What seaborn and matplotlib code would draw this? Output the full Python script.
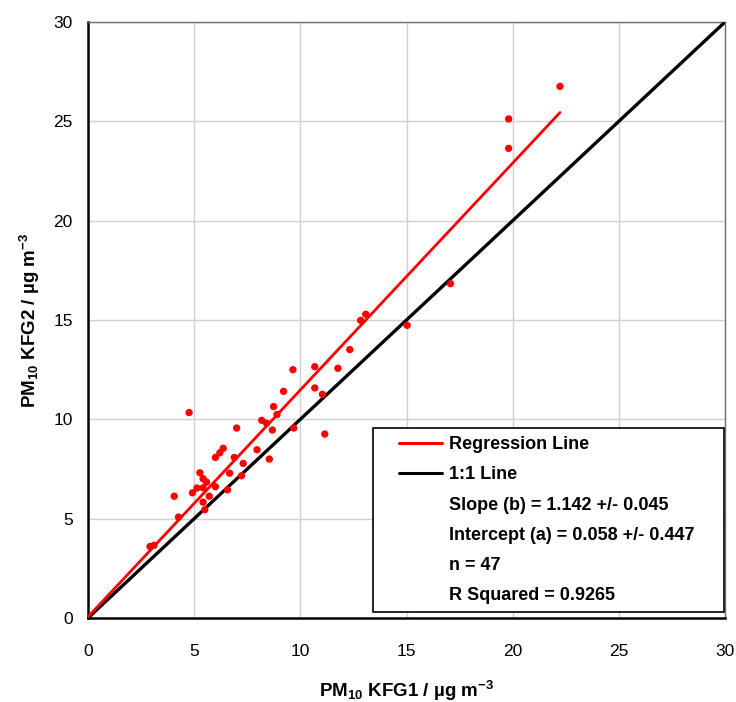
import matplotlib
matplotlib.use("Agg")
import matplotlib.pyplot as plt
from matplotlib.lines import Line2D
from matplotlib.patches import Rectangle
import numpy as np
import pandas as pd
import seaborn as sns

# PM10 values (ug m-3)
kfg1 = [4.76, 8.74, 8.90, 8.18, 8.41, 8.68, 9.69, 11.15, 7.00, 6.37,
        6.21, 6.00, 6.89, 7.96, 8.54, 7.31, 6.67, 7.23, 5.27, 5.42,
        5.58, 6.00, 5.42, 5.13, 6.57, 4.92, 5.71, 5.42, 5.50, 4.06,
        4.26, 2.92, 3.11, 17.07, 15.03, 12.84, 13.08, 12.33, 11.77, 10.68,
        9.65, 10.68, 11.04, 9.21, 22.23, 19.81, 19.81]
kfg2 = [10.34, 10.64, 10.24, 9.95, 9.80, 9.46, 9.56, 9.26, 9.56, 8.54,
        8.32, 8.08, 8.08, 8.47, 8.00, 7.78, 7.29, 7.16, 7.31, 7.01,
        6.84, 6.61, 6.55, 6.54, 6.45, 6.30, 6.13, 5.83, 5.45, 6.13,
        5.08, 3.60, 3.66, 16.83, 14.73, 14.98, 15.29, 13.51, 12.57, 12.65,
        12.50, 11.58, 11.26, 11.41, 26.76, 25.12, 23.64]

# fit results given on the chart
slope = 1.142
intercept = 0.058
stats_labels = ["Slope (b) = 1.142 +/- 0.045",
                "Intercept (a) = 0.058 +/- 0.447",
                "n = 47",
                "R Squared = 0.9265"]

df = pd.DataFrame({"kfg1": kfg1, "kfg2": kfg2})

sns.set_style("white")
plt.rcParams["font.family"] = ["Liberation Sans", "DejaVu Sans"]
plt.rcParams["mathtext.default"] = "regular"
plt.rcParams["text.color"] = "black"
plt.rcParams["axes.labelcolor"] = "black"
plt.rcParams["xtick.color"] = "black"
plt.rcParams["ytick.color"] = "black"

fig = plt.figure(figsize=(7.36, 7.02), dpi=100)
ax = fig.add_axes([88 / 736, 84 / 702, 637 / 736, 596 / 702])

# lignes: 1:1 et regression
one = np.array([0, 30])
sns.lineplot(x=one, y=one, color="black", lw=2.4, ax=ax, zorder=3)
xr = np.array([0, df["kfg1"].max()])
sns.lineplot(x=xr, y=slope * xr + intercept, color="#ff0000", lw=2.0, ax=ax, zorder=3)
sns.scatterplot(data=df, x="kfg1", y="kfg2", color="#ff0000", s=28,
                edgecolor="none", ax=ax, zorder=3)

ax.set_xlim(0, 30)
ax.set_ylim(0, 30)
ticks = [0, 5, 10, 15, 20, 25, 30]
ax.set_xticks(ticks)
ax.set_yticks(ticks)
ax.grid(True, color="#d0d0d0", lw=1)
ax.set_axisbelow(True)
ax.tick_params(axis="both", direction="out", length=5, width=1,
               color="#606060", labelsize=12.5, labelcolor="black")
ax.yaxis.set_tick_params(pad=6)
ax.xaxis.set_tick_params(pad=14)

for side in ["left", "bottom"]:
    ax.spines[side].set_color("black")
    ax.spines[side].set_linewidth(1.8)
for side in ["top", "right"]:
    ax.spines[side].set_color("#707070")
    ax.spines[side].set_linewidth(1.0)

ax.set_xlabel(r"PM$_{10}$ KFG1 / µg m$^{-3}$", fontsize=13.5,
              fontweight="bold", labelpad=14)
ax.set_ylabel(r"PM$_{10}$ KFG2 / µg m$^{-3}$", fontsize=13.5,
              fontweight="bold", labelpad=8)

# cadre de la legende
box = Rectangle((0.448, 0.01), 0.551, 0.309, transform=ax.transAxes,
                facecolor="white", edgecolor="black", lw=1.2, zorder=4)
ax.add_patch(box)

handles = [Line2D([], [], color="#ff0000", lw=2.2),
           Line2D([], [], color="black", lw=2.2)]
handles += [Line2D([], [], alpha=0) for _ in stats_labels]
labels = ["Regression Line", "1:1 Line"] + stats_labels
leg = ax.legend(handles, labels, loc="upper left",
                bbox_to_anchor=(0.488, 0.305), frameon=False,
                prop={"weight": "bold", "size": 13},
                handlelength=2.4, handletextpad=0.35, labelspacing=0.73,
                borderpad=0, borderaxespad=0)
leg.set_zorder(5)

fig.savefig("out.png", dpi=100)
